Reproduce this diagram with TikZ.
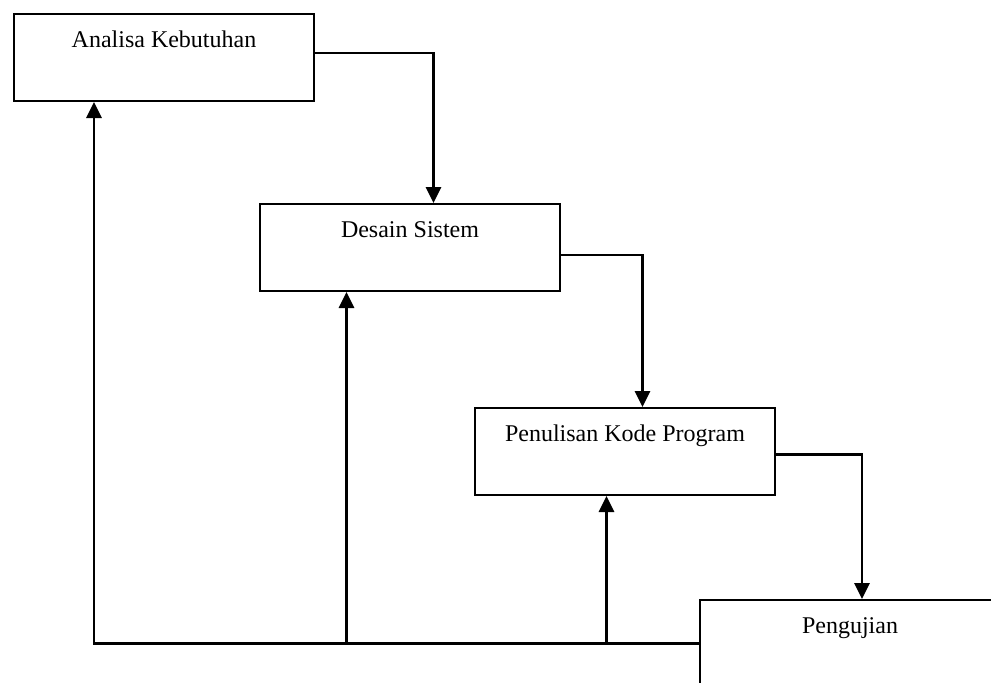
\documentclass[tikz,border=0pt]{standalone}
\usepackage{fontspec}
\setmainfont{Liberation Serif}
\usetikzlibrary{arrows.meta, positioning}

\begin{document}
\begin{tikzpicture}[x=0.5pt, y=-0.5pt]

    \tikzstyle{process} = [rectangle, minimum width=150pt, inner sep=0pt, text height=16.5pt, text depth=27pt, anchor=north west, draw=black, line width=1pt, font=\fontsize{12}{14}\selectfont]
    \tikzstyle{arrow} = [line width=1.4pt, -{Triangle[width=7.5pt,length=8pt]}]

    \useasboundingbox (0,0) rectangle (991,682);
    \clip (0,0) rectangle (991,682);

    \node (analisa) [process] at (13,13) {Analisa Kebutuhan};
    \node (desain) [process] at (259,203) {Desain Sistem};
    \node (kode) [process] at (474,407) {Penulisan Kode Program};
    \node (uji) [process] at (699,599) {Pengujian};

    \draw [arrow] ([yshift=2.25pt]analisa.east) -| ([xshift=11.75pt]desain.north);
    \draw [arrow] ([yshift=-3.75pt]desain.east) -| ([xshift=8.75pt]kode.north);
    \draw [arrow] ([yshift=-1.5pt]kode.east) -| ([xshift=6pt]uji.north);

    % kembali ke tahap sebelumnya
    \coordinate (kembaliA) at ([xshift=-35pt]analisa.south);
    \coordinate (kembaliD) at ([xshift=-31.75pt]desain.south);
    \coordinate (kembaliK) at ([xshift=-9.25pt]kode.south);
    \draw [arrow] (uji.west) -| (kembaliA);
    \draw [arrow] (kembaliD |- uji.west) -- (kembaliD);
    \draw [arrow] (kembaliK |- uji.west) -- (kembaliK);
\end{tikzpicture}
\end{document}
